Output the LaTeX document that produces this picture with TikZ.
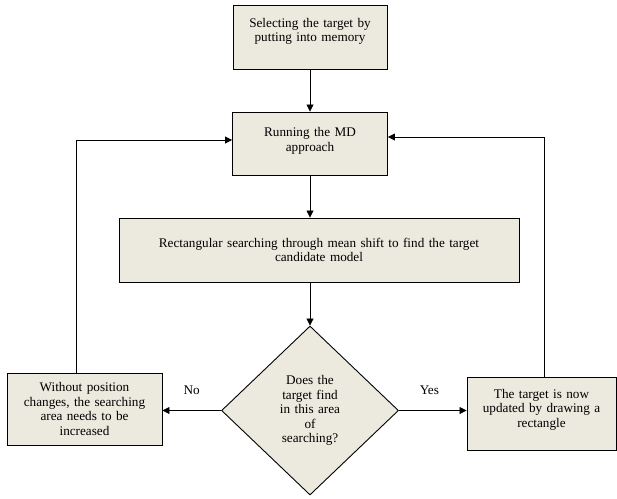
\documentclass[tikz,border=0pt]{standalone}
\usepackage{fontspec}
\setmainfont{Liberation Serif}
\usetikzlibrary{shapes.geometric,arrows.meta}
\definecolor{boxfill}{RGB}{236,233,222}
\begin{document}
\begin{tikzpicture}[x=1pt,y=-1pt,
    font=\fontsize{13.2}{14.5}\selectfont,
    stepbox/.style={draw, line width=0.9pt, fill=boxfill, inner sep=2pt, align=center},
    decision/.style={draw, diamond, line width=0.9pt, fill=boxfill, inner sep=0pt, align=center, text width=70pt},
    arrow/.style={-{Triangle[length=7pt,width=7pt]}, line width=0.8pt}]
        \useasboundingbox (0,0) rectangle (617,498);
        % Steps
            \node[stepbox, minimum width=154pt, minimum height=64pt, text width=148pt] (select) at (310,37) {Selecting the target by\\putting into memory\\ \mbox{}};
            \node[stepbox, minimum width=155pt, minimum height=63pt, text width=148pt] (running) at (310,143.5) {Running the MD\\approach\\[-6pt]\mbox{}};
            \node[stepbox, minimum width=400pt, minimum height=64pt, text width=390pt] (search) at (319,250) {Rectangular searching through mean shift to find the target\\candidate model};
            \node[decision, minimum width=177pt, minimum height=169pt] (found) at (310,410.5) {Does the\\target find\\in this area\\of\\searching?};
            \node[stepbox, minimum width=155pt, minimum height=72pt, text width=150pt] (increase) at (84.5,409) {Without position\\changes, the searching\\area needs to be\\increased};
            \node[stepbox, minimum width=149pt, minimum height=73pt, text width=145pt] (update) at (541.5,413.5) {The target is now\\updated by drawing a\\rectangle\\[-4pt]\mbox{}};
        % Flow
            \draw[arrow] (select) -- (running);
            \draw[arrow] (running.south) -- (running.south |- search.north);
            \draw[arrow] (search.south -| found.north) -- (found.north);
            \draw[arrow] (found.west) -- node[pos=0.5, above=12pt] {No} (increase.east |- found.west);
            \draw[arrow] (found.east) -- node[pos=0.45, above=12pt] {Yes} (update.west |- found.east);
        % Loops back
            \draw[arrow] ([xshift=-8.5pt]increase.north) |- ([yshift=3.5pt]running.west);
            \draw[arrow] ([xshift=2.5pt]update.north) |- ([yshift=6.5pt]running.east);
        \end{tikzpicture}
\end{document}
